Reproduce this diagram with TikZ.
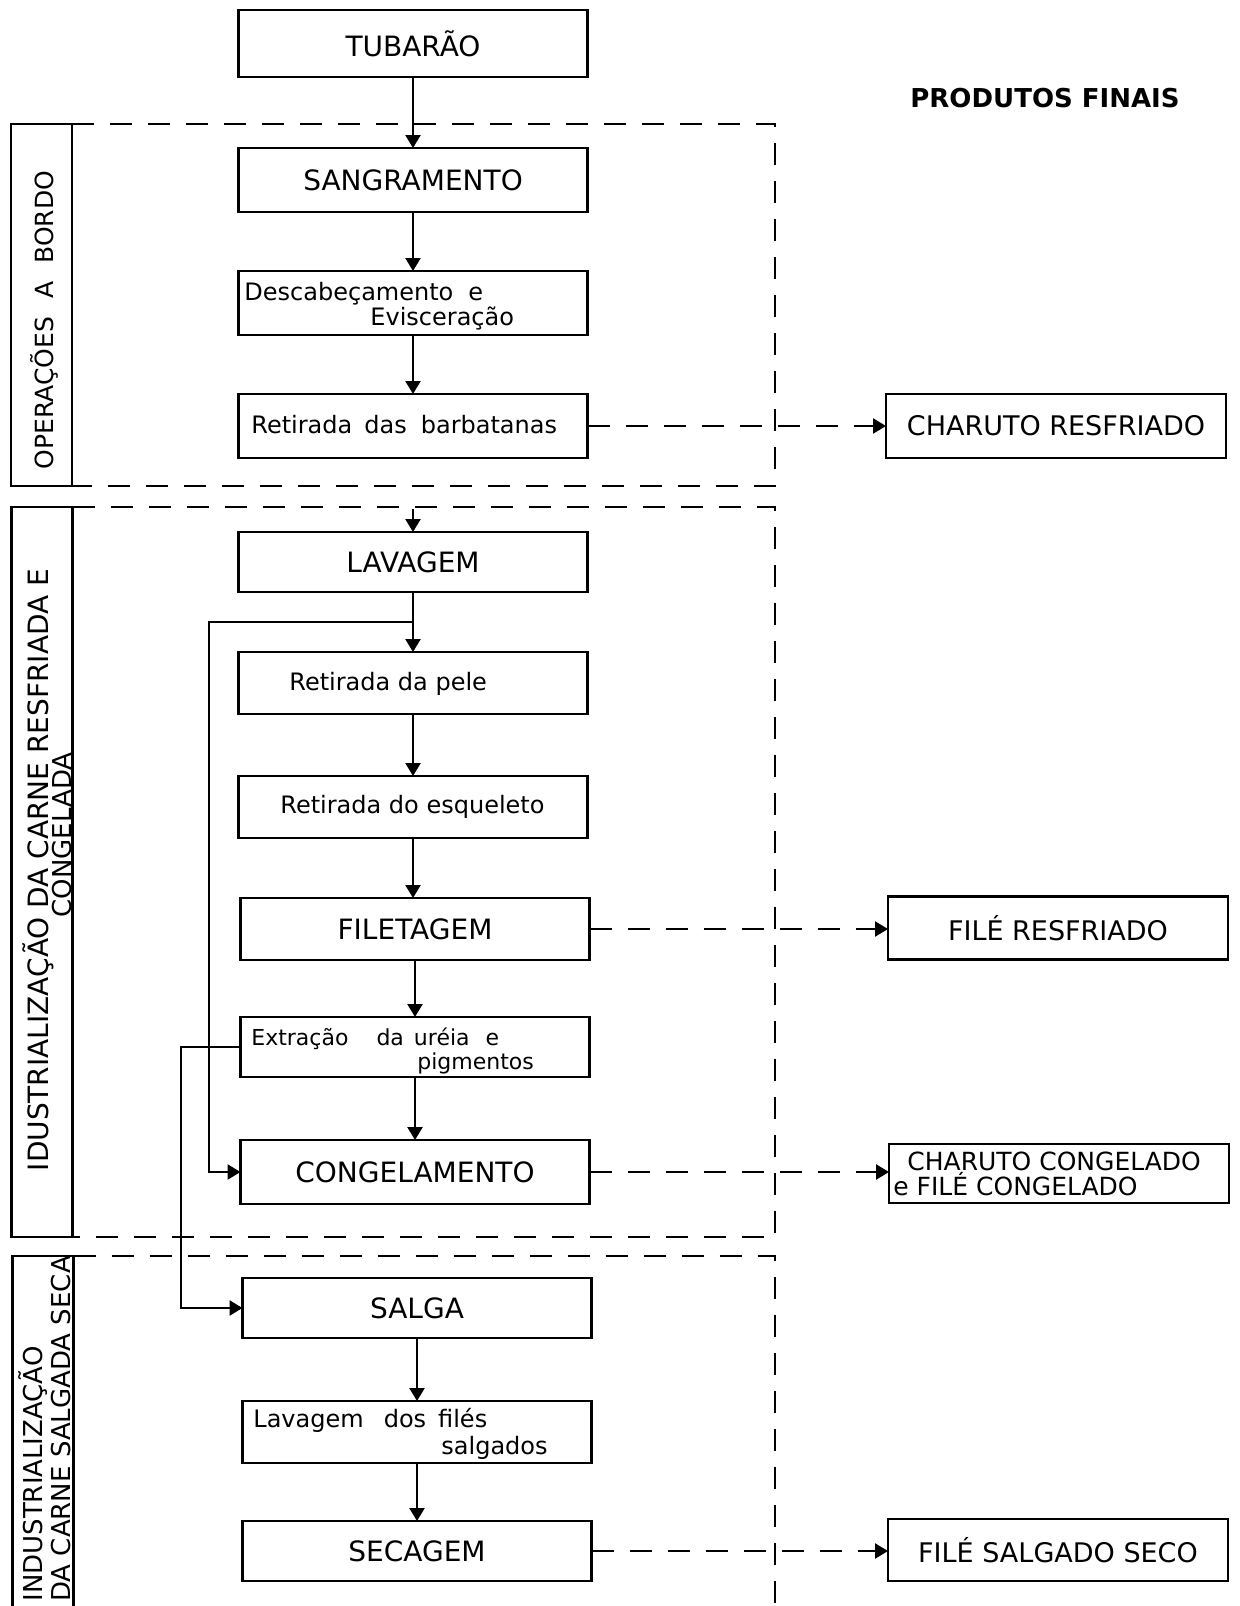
\documentclass[tikz,border=0pt]{standalone}
\usepackage{fontspec}
\setmainfont{DejaVu Sans}
\usetikzlibrary{arrows.meta}
\begin{document}
\begin{tikzpicture}[x=0.5pt,y=-0.5pt,
  box/.style={draw, line width=1.4pt, inner sep=0pt, outer sep=0pt, minimum width=174.5pt},
  prodbox/.style={draw, line width=1.4pt, inner sep=0pt, outer sep=0pt, minimum width=170pt},
  sidebox/.style={draw, line width=1.4pt, inner sep=0pt, outer sep=0pt, minimum width=30.5pt},
  capt/.style={font=\fontsize{14}{16}\selectfont},
  prodt/.style={font=\fontsize{13.5}{15}\selectfont},
  lowt/.style={font=\fontsize{12}{14}\selectfont, inner sep=0pt, anchor=base west},
  smallt/.style={font=\fontsize{11}{13}\selectfont, inner sep=0pt, anchor=base west},
  twoline/.style={font=\fontsize{12.5}{14}\selectfont, inner sep=0pt, anchor=base west},
  sidelabel/.style={rotate=90, inner sep=0pt},
  flow/.style={line width=1.2pt, -{Triangle[width=7.5pt,length=6.5pt]}},
  prodflow/.style={flow, dash pattern=on 11pt off 8pt},
  frame/.style={line width=1.4pt, dash pattern=on 11pt off 8pt},
]
\useasboundingbox (0,0) rectangle (1239,1606);
\clip (0,0) rectangle (1239,1606);
\fill[white] (0,0) rectangle (1239,1606);

% header of the product column
\node[font=\bfseries\fontsize{13}{15}\selectfont, anchor=base] (hdr) at (1045,107) {PRODUTOS FINAIS};

% right edge of the dashed stage frames
\coordinate (fR) at (775,0);

% stage label boxes
\node[sidebox, minimum height=181pt] (l1) at (41.5,305) {};
\node[sidebox, minimum height=365pt] (l2) at (42,872) {};
\node[sidebox, minimum height=192pt] (l3) at (43,1448) {};

\node[sidelabel, anchor=base, font=\fontsize{12.5}{14}\selectfont] (t1) at (53,320)
  {OPERAÇÕES\hspace{9pt}A\hspace{9pt}BORDO};
\node[sidelabel, anchor=base, font=\fontsize{14}{16}\selectfont] (t2a) at (48,870)
  {IDUSTRIALIZAÇÃO DA CARNE RESFRIADA E};
\node[sidelabel, anchor=base, font=\fontsize{13}{15}\selectfont] (t2b) at (71,835)
  {CONGELADA};
\node[sidelabel, anchor=base west, font=\fontsize{13}{15}\selectfont] (t3a) at (42,1602)
  {INDUSTRIALIZAÇÃO};
\node[sidelabel, anchor=base west, font=\fontsize{13}{15}\selectfont] (t3b) at (70,1602)
  {DA CARNE SALGADA SECA};

% dashed stage frames
\draw[frame] (l1.north east) -- (l1.north east -| fR) -- (l1.south east -| fR) -- (l1.south east);
\draw[frame] (l2.north east) -- (l2.north east -| fR) -- (l2.south east -| fR) -- (l2.south east);
\draw[frame] (l3.north east) -- (l3.north east -| fR) -- (l3.south east -| fR) -- (l3.south east);

% process steps
\node[box, capt, minimum height=33.5pt] (tub) at (413,43.5) {TUBARÃO};
\node[box, capt, minimum height=32pt] (sang) at (413,180) {SANGRAMENTO};
\node[box, minimum height=32pt] (desc) at (413,303) {};
\node[box, minimum height=32pt] (barb) at (413,426) {};
\node[box, capt, minimum height=30pt] (lav) at (413,562) {LAVAGEM};
\node[box, minimum height=31pt] (pele) at (413,683) {};
\node[box, minimum height=31pt] (esq) at (413,807) {};
\node[box, capt, minimum height=31pt] (filet) at (415,929) {FILETAGEM};
\node[box, minimum height=30pt] (extr) at (415,1047) {};
\node[box, capt, minimum height=32pt] (cong) at (415,1172) {CONGELAMENTO};
\node[box, capt, minimum height=30pt] (salga) at (417,1308) {SALGA};
\node[box, minimum height=31pt] (lavf) at (417,1432) {};
\node[box, capt, minimum height=30pt] (sec) at (417,1551) {SECAGEM};

% texts of the steps set in lower case
\node[lowt] (descA) at (244,300) {Descabeçamento\hspace{7.5pt}e};
\node[lowt] (descB) at (370,325) {Evisceração};
\node[lowt] (barbT) at (251,433) {Retirada\hspace{6pt}das\hspace{7pt}barbatanas};
\node[lowt] (peleT) at (289,690) {Retirada da pele};
\node[lowt] (esqT) at (280,813) {Retirada do esqueleto};
\node[smallt] (extrA) at (251,1045) {Extração\hspace{14pt}da\hspace{5pt}uréia\hspace{8pt}e};
\node[smallt] (extrB) at (417,1069) {pigmentos};
\node[lowt] (lavfA) at (253,1427) {Lavagem\hspace{10pt}dos\hspace{6pt}filés};
\node[lowt] (lavfB) at (441,1454) {salgados};

% final products
\node[prodbox, prodt, minimum height=32pt] (charR) at (1056,426) {CHARUTO RESFRIADO};
\node[prodbox, prodt, minimum height=31.5pt] (fileR) at (1058,928) {FILÉ RESFRIADO};
\node[prodbox, minimum height=29.5pt] (charC) at (1059,1173.5) {};
\node[twoline] (charCa) at (907,1170) {CHARUTO CONGELADO};
\node[twoline] (charCb) at (893,1195) {e FILÉ CONGELADO};
\node[prodbox, prodt, minimum height=31pt] (fileS) at (1058,1550) {FILÉ SALGADO SECO};

% main flow
\draw[flow] (tub.south) -- (tub.south |- sang.north);
\draw[flow] (sang.south) -- (sang.south |- desc.north);
\draw[flow] (desc.south) -- (desc.south |- barb.north);
\coordinate (in2) at (413,509);
\draw[flow] (in2) -- (lav.north);
\draw[flow] (lav.south) -- (lav.south |- pele.north);
\draw[flow] (pele.south) -- (pele.south |- esq.north);
\draw[flow] (esq.south) -- (esq.south |- filet.north);
\draw[flow] (filet.south) -- (filet.south |- extr.north);
\draw[flow] (extr.south) -- (extr.south |- cong.north);
\draw[flow] (salga.south) -- (salga.south |- lavf.north);
\draw[flow] (lavf.south) -- (lavf.south |- sec.north);

% by-pass lines
\coordinate (j1) at (413,622);
\coordinate (c1) at (209,622);
\draw[flow] (j1) -- (c1) |- (cong.west);
\coordinate (c2) at (181,1047);
\draw[flow] (extr.west) -- (c2) |- (salga.west);

% routes to the final products
\draw[prodflow] (barb.east) -- (barb.east -| charR.west);
\draw[prodflow] (filet.east) -- (filet.east -| fileR.west);
\draw[prodflow] (cong.east) -- (cong.east -| charC.west);
\draw[prodflow] (sec.east) -- (sec.east -| fileS.west);
\end{tikzpicture}
\end{document}
